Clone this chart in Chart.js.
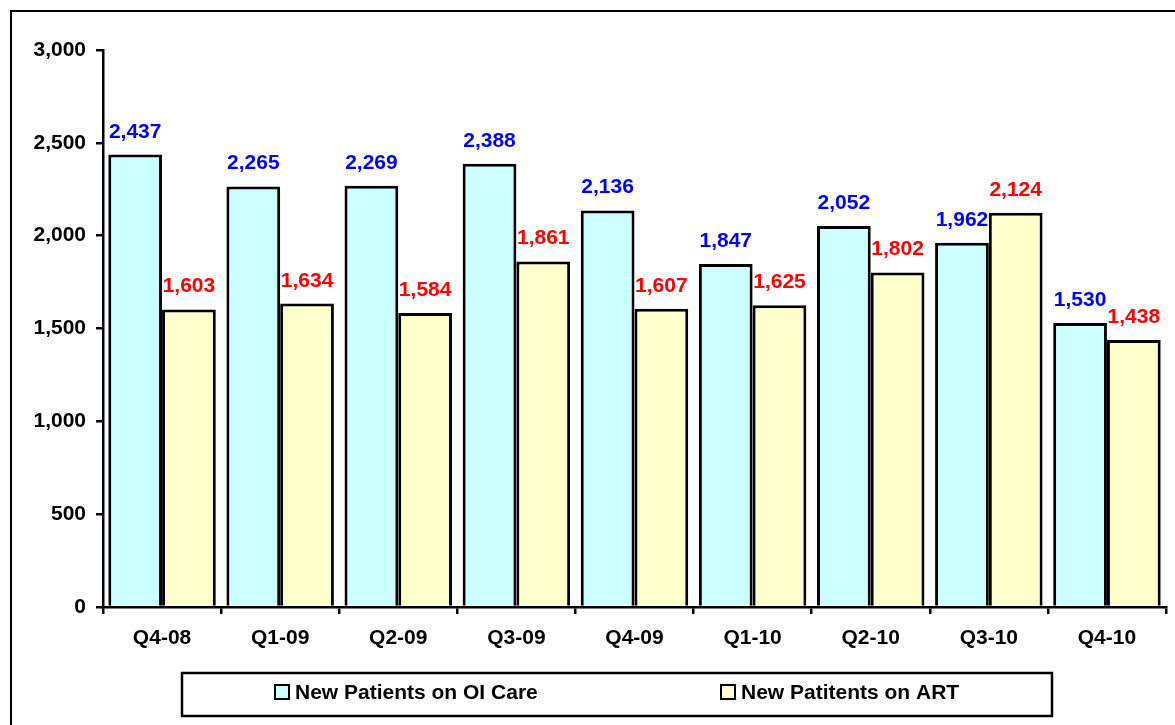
<!DOCTYPE html>
<html>
<head>
<meta charset="utf-8">
<script src="https://cdn.jsdelivr.net/npm/chart.js@4.4.1/dist/chart.umd.min.js"></script>
<style>
  html, body { margin: 0; padding: 0; background: #fff; }
  #wrap { width: 1175px; height: 725px; position: relative; }
</style>
</head>
<body>
<div id="wrap"><canvas id="c" width="1175" height="725"></canvas></div>
<script>
const categories = ['Q4-08', 'Q1-09', 'Q2-09', 'Q3-09', 'Q4-09', 'Q1-10', 'Q2-10', 'Q3-10', 'Q4-10'];
const oiCare = [2437, 2265, 2269, 2388, 2136, 1847, 2052, 1962, 1530];
const art = [1603, 1634, 1584, 1861, 1607, 1625, 1802, 2124, 1438];
const seriesNames = ['New Patients on OI Care', 'New Patitents on ART'];
const yTicks = [0, 500, 1000, 1500, 2000, 2500, 3000];

const FONT = 'Arial, "Liberation Sans", sans-serif';
const fmt = v => v.toLocaleString('en-US');

const framePlugin = {
  id: 'frame',
  beforeDraw(chart) {
    const ctx = chart.ctx;
    ctx.save();
    ctx.fillStyle = '#fff';
    ctx.fillRect(0, 0, chart.width, chart.height);
    ctx.strokeStyle = '#000';
    ctx.lineWidth = 2;
    ctx.strokeRect(11, 11, chart.width + 20, chart.height + 20);
    ctx.restore();
  },
  afterDatasetsDraw(chart) {
    const ctx = chart.ctx;
    ctx.save();
    ctx.font = 'bold 21px ' + FONT;
    ctx.textAlign = 'center';
    ctx.textBaseline = 'alphabetic';
    const colors = ['#0000FF', '#FF0000'];
    chart.data.datasets.forEach((ds, di) => {
      const meta = chart.getDatasetMeta(di);
      meta.data.forEach((el, i) => {
        ctx.fillStyle = colors[di];
        ctx.fillText(fmt(ds.data[i]), el.x, el.y - 17);
      });
    });
    ctx.restore();
  },
  afterDraw(chart) {
    const ctx = chart.ctx;
    ctx.save();
    ctx.strokeStyle = '#000';
    ctx.lineWidth = 2.5;
    ctx.strokeRect(182, 673, 870, 43);
    ctx.font = 'bold 21px ' + FONT;
    ctx.textBaseline = 'middle';
    ctx.textAlign = 'left';
    const starts = [275, 721];
    chart.data.datasets.forEach((ds, di) => {
      const x = starts[di];
      const y = 692;
      ctx.fillStyle = ds.backgroundColor;
      ctx.fillRect(x, y - 7, 14, 14);
      ctx.lineWidth = 2;
      ctx.strokeRect(x, y - 7, 14, 14);
      ctx.fillStyle = '#000';
      ctx.fillText(ds.label, x + 20, y + 1);
    });
    ctx.restore();
  }
};

new Chart(document.getElementById('c'), {
  type: 'bar',
  data: {
    labels: categories,
    datasets: [
      { label: seriesNames[0], data: oiCare, backgroundColor: '#CCFFFF', borderColor: '#000', borderWidth: 3 },
      { label: seriesNames[1], data: art, backgroundColor: '#FFFFCC', borderColor: '#000', borderWidth: 3 }
    ]
  },
  options: {
    responsive: false,
    animation: false,
    devicePixelRatio: 1,
    layout: { padding: { top: 50, right: 9, left: 0, bottom: 0 } },
    datasets: { bar: { categoryPercentage: 0.91, barPercentage: 1.0 } },
    plugins: { legend: { display: false }, tooltip: { enabled: false } },
    scales: {
      x: {
        grid: { display: true, drawOnChartArea: false, offset: true, color: '#000', lineWidth: 2.5, tickLength: 7 },
        border: { display: true, color: '#000', width: 2.5 },
        ticks: { color: '#000', font: { family: FONT, size: 21, weight: 'bold' }, padding: 12 },
        afterFit(scale) { scale.height = 118; }
      },
      y: {
        min: 0, max: 3000,
        afterBuildTicks(scale) { scale.ticks = yTicks.map(v => ({ value: v })); },
        grid: { display: true, drawOnChartArea: false, color: '#000', lineWidth: 2.5, tickLength: 7 },
        border: { display: true, color: '#000', width: 2.5 },
        ticks: { color: '#000', font: { family: FONT, size: 21, weight: 'bold' }, padding: 10, callback: v => fmt(v) },
        afterFit(scale) { scale.width = 103; }
      }
    }
  },
  plugins: [framePlugin]
});
</script>
</body>
</html>
